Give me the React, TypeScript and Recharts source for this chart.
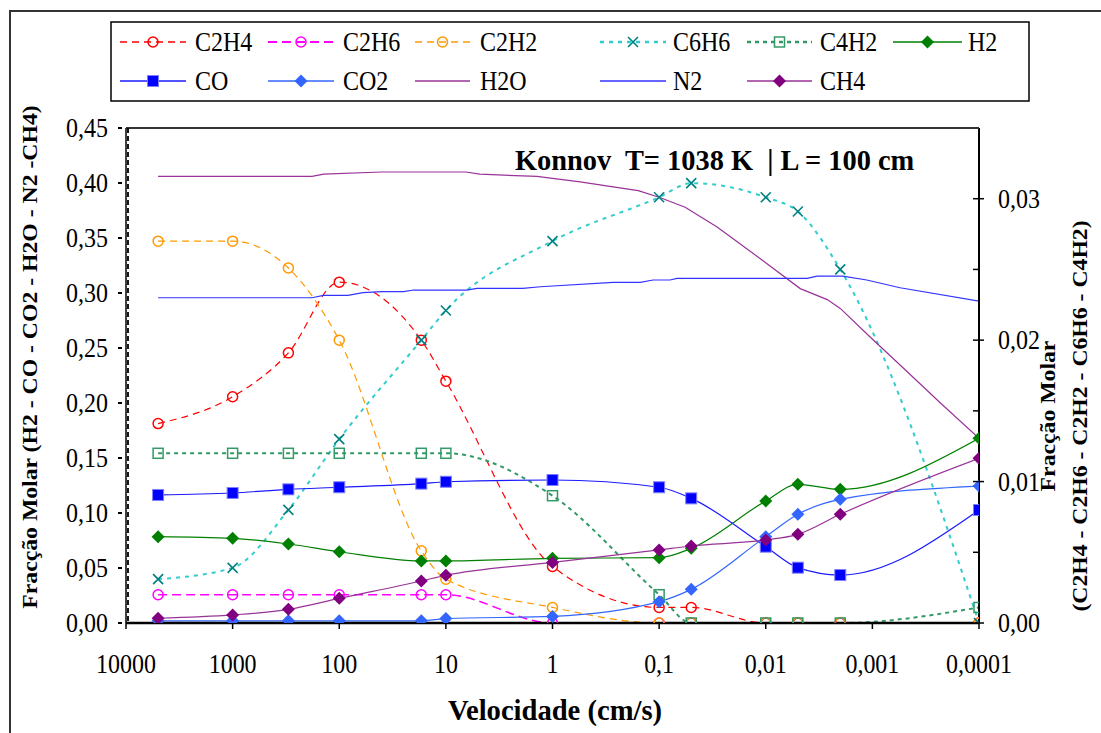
import React from "react";
import { LineChart, Line, XAxis, YAxis } from "recharts";

// velocidades (cm/s) onde há marcadores
const xMarks = [5000, 1000, 300, 100, 17, 10, 1, 0.1, 0.05, 0.01, 0.005, 0.002, 0.0001];

// eixo secundário (C2H4 - C2H6 - C2H2 - C6H6 - C4H2)
const c2h4 = [0.0141, 0.016, 0.0191, 0.0241, 0.02, 0.0171, 0.004, 0.0011, 0.0011, 0, 0, 0, 0];
const c2h6 = [0.002, 0.002, 0.002, 0.002, 0.002, 0.002, 0, 0, 0, 0, 0, 0, 0];
const c2h2 = [0.027, 0.027, 0.0251, 0.02, 0.0051, 0.0031, 0.0011, 0, 0, 0, 0, 0, 0];
const c6h6 = [0.0031, 0.0039, 0.008, 0.013, 0.02, 0.0221, 0.027, 0.0301, 0.0311, 0.0301, 0.0291, 0.025, 0];
const c4h2 = [0.012, 0.012, 0.012, 0.012, 0.012, 0.012, 0.009, 0.002, 0, 0, 0, 0, 0.0011];

// eixo principal (H2 - CO - CO2 - H2O - N2 - CH4)
const h2 = [0.0785, 0.077, 0.0718, 0.0648, 0.0564, 0.0564, 0.0588, 0.0594, 0.0679, 0.1109, 0.1261, 0.1215, 0.1679];
const co = [0.1164, 0.1182, 0.1215, 0.1234, 0.1267, 0.1284, 0.13, 0.1234, 0.1133, 0.0694, 0.0503, 0.0436, 0.1027];
const co2 = [0.002, 0.002, 0.002, 0.002, 0.002, 0.004, 0.006, 0.0194, 0.0306, 0.0785, 0.0988, 0.1124, 0.1245];
const ch4 = [0.0043, 0.0073, 0.0124, 0.0224, 0.0382, 0.0433, 0.0551, 0.0664, 0.07, 0.0755, 0.0806, 0.0988, 0.1497];

const h2oX = [5000, 180, 140, 40, 6.5, 4.8, 1.4, 0.55, 0.29, 0.157, 0.1, 0.057, 0.0286, 0.014, 0.00475, 0.00265, 0.002, 0.00105, 0.00049, 0.00023, 0.0001];
const h2oY = [0.406, 0.406, 0.408, 0.41, 0.41, 0.408, 0.406, 0.401, 0.397, 0.393, 0.387, 0.378, 0.36, 0.338, 0.304, 0.294, 0.286, 0.26, 0.23, 0.2, 0.168];

const n2X = [5000, 180, 141, 83, 60, 40, 25, 20, 6.4, 5.1, 1.9, 1.3, 0.27, 0.15, 0.114, 0.079, 0.068, 0.0041, 0.0033, 0.0019, 0.00113, 0.00055, 0.0001];
const n2Y = [0.2957, 0.2957, 0.2979, 0.2979, 0.3003, 0.3012, 0.3012, 0.3027, 0.3027, 0.3042, 0.3042, 0.3057, 0.3097, 0.3097, 0.3118, 0.3118, 0.3133, 0.3133, 0.3154, 0.3154, 0.3118, 0.3048, 0.2926];

const xTicks = [10000, 1000, 100, 10, 1, 0.1, 0.01, 0.001, 0.0001];
const leftTicks = [0, 0.05, 0.1, 0.15, 0.2, 0.25, 0.3, 0.35, 0.4, 0.45];
const rightTicks = [0, 0.005, 0.01, 0.015, 0.02, 0.025, 0.03, 0.035];

const FONT = "'Liberation Serif', 'Times New Roman', serif";
const SY = 1.13;

type Kind = "circle" | "x" | "hsquare" | "square" | "diamond" | "none";

type Series = {
  name: string;
  xs: number[];
  ys: number[];
  axis: "L" | "R";
  stroke: string;
  width: number;
  dash?: string;
  marker: Kind;
  markerColor: string;
};

const series: Series[] = [
  { name: "C2H4", xs: xMarks, ys: c2h4, axis: "R", stroke: "#ff0000", width: 1.2, dash: "7 5", marker: "circle", markerColor: "#ff0000" },
  { name: "C2H6", xs: xMarks, ys: c2h6, axis: "R", stroke: "#ff00ff", width: 1.5, dash: "9 5", marker: "circle", markerColor: "#ff00ff" },
  { name: "C2H2", xs: xMarks, ys: c2h2, axis: "R", stroke: "#ff9900", width: 1.2, dash: "7 5", marker: "circle", markerColor: "#ff9900" },
  { name: "C6H6", xs: xMarks, ys: c6h6, axis: "R", stroke: "#33cccc", width: 2, dash: "4 5", marker: "x", markerColor: "#008080" },
  { name: "C4H2", xs: xMarks, ys: c4h2, axis: "R", stroke: "#339966", width: 2, dash: "4 4", marker: "hsquare", markerColor: "#339966" },
  { name: "H2", xs: xMarks, ys: h2, axis: "L", stroke: "#008000", width: 1.2, marker: "diamond", markerColor: "#008000" },
  { name: "CO", xs: xMarks, ys: co, axis: "L", stroke: "#1a1aff", width: 1.2, marker: "square", markerColor: "#0000ff" },
  { name: "CO2", xs: xMarks, ys: co2, axis: "L", stroke: "#3366ff", width: 1.2, marker: "diamond", markerColor: "#3366ff" },
  { name: "H2O", xs: h2oX, ys: h2oY, axis: "L", stroke: "#993399", width: 1.2, marker: "none", markerColor: "#993399" },
  { name: "N2", xs: n2X, ys: n2Y, axis: "L", stroke: "#3333ff", width: 1.2, marker: "none", markerColor: "#3333ff" },
  { name: "CH4", xs: xMarks, ys: ch4, axis: "L", stroke: "#993399", width: 1.2, marker: "diamond", markerColor: "#800080" },
];

// posição das entradas da legenda: [início da linha, fim da linha, início do texto]
const legendCols = [
  [120, 186, 195],
  [268, 334, 343],
  [415, 470, 480],
  [600, 666, 673],
  [747, 812, 820],
  [893, 962, 968],
];
const legendRows = [
  ["C2H4", "C2H6", "C2H2", "C6H6", "C4H2", "H2"],
  ["CO", "CO2", "H2O", "N2", "CH4"],
];

function Marker({ kind, cx, cy, color }: { kind: Kind; cx: number; cy: number; color: string }) {
  if (kind === "circle")
    return <circle cx={cx} cy={cy} r={5} fill="none" stroke={color} strokeWidth={1.5} />;
  if (kind === "x")
    return (
      <g stroke={color} strokeWidth={1.6}>
        <line x1={cx - 5} y1={cy - 5} x2={cx + 5} y2={cy + 5} />
        <line x1={cx - 5} y1={cy + 5} x2={cx + 5} y2={cy - 5} />
      </g>
    );
  if (kind === "hsquare")
    return <rect x={cx - 5} y={cy - 5} width={10} height={10} fill="none" stroke={color} strokeWidth={1.5} />;
  if (kind === "square")
    return <rect x={cx - 5.5} y={cy - 5.5} width={11} height={11} fill={color} stroke="#8080ff" strokeWidth={1} />;
  if (kind === "diamond")
    return <polygon points={`${cx},${cy - 6.5} ${cx + 6.5},${cy} ${cx},${cy + 6.5} ${cx - 6.5},${cy}`} fill={color} />;
  return null;
}

const fmt = (v: number) => String(v).replace(".", ",");

function XTick(props: any) {
  const { x, y, payload } = props;
  return (
    <g>
      <line x1={x} y1={y} x2={x} y2={y + 6} stroke="#000" strokeWidth={1.5} />
      <text transform={`translate(${x},${y + 50}) scale(1,${SY})`} textAnchor="middle" fontFamily={FONT} fontSize={24} fill="#000">
        {fmt(payload.value)}
      </text>
    </g>
  );
}

function LeftTick(props: any) {
  const { x, y, payload } = props;
  return (
    <g>
      <line x1={x - 8} y1={y} x2={x - 4} y2={y} stroke="#000" strokeWidth={2} />
      <text transform={`translate(${x - 18},${y + 9}) scale(1,${SY})`} textAnchor="end" fontFamily={FONT} fontSize={24} fill="#000">
        {payload.value.toFixed(2).replace(".", ",")}
      </text>
    </g>
  );
}

function RightTick(props: any) {
  const { x, y, payload } = props;
  const major = Math.round(payload.value * 1000) % 10 === 0;
  return (
    <g>
      <line x1={x - 6} y1={y} x2={major ? x + 5 : x} y2={y} stroke="#000" strokeWidth={1.5} />
      {major && payload.value < 0.035 && (
        <text transform={`translate(${x + 19},${y + 9}) scale(1,${SY})`} textAnchor="start" fontFamily={FONT} fontSize={24} fill="#000">
          {payload.value.toFixed(2).replace(".", ",")}
        </text>
      )}
    </g>
  );
}

function LegendSample({ s, x1, x2, y }: { s: Series; x1: number; x2: number; y: number }) {
  return (
    <g>
      <line x1={x1} y1={y} x2={x2} y2={y} stroke={s.stroke} strokeWidth={s.width + 0.3} strokeDasharray={s.dash} />
      <Marker kind={s.marker} cx={(x1 + x2) / 2} cy={y} color={s.markerColor} />
    </g>
  );
}

export default function App() {
  const W = 1101;
  const H = 733;
  const byName = (n: string) => series.find((s) => s.name === n)!;

  return (
    <div style={{ position: "absolute", left: 0, top: 0, width: W, height: H, background: "#fff" }}>
      <LineChart width={W} height={H} margin={{ top: 128, right: 0, bottom: 0, left: 0 }}>
        <XAxis
          dataKey="x"
          type="number"
          scale="log"
          domain={[0.0001, 10000]}
          reversed
          allowDataOverflow
          ticks={xTicks}
          interval={0}
          height={110}
          tickSize={0}
          tickMargin={0}
          tickLine={false}
          axisLine={{ stroke: "#000", strokeWidth: 2.5 }}
          tick={(p: any) => <XTick {...p} />}
        />
        <YAxis
          yAxisId="L"
          orientation="left"
          domain={[0, 0.45]}
          ticks={leftTicks}
          interval={0}
          width={126}
          tickSize={0}
          tickMargin={0}
          tickLine={false}
          allowDataOverflow
          axisLine={{ stroke: "#000", strokeWidth: 1.5 }}
          tick={(p: any) => <LeftTick {...p} />}
        />
        <YAxis
          yAxisId="R"
          orientation="right"
          domain={[0, 0.035]}
          ticks={rightTicks}
          interval={0}
          width={122}
          tickSize={0}
          tickMargin={0}
          tickLine={false}
          allowDataOverflow
          axisLine={{ stroke: "#000", strokeWidth: 2 }}
          tick={(p: any) => <RightTick {...p} />}
        />
        {series.map((s) => (
          <Line
            key={s.name}
            name={s.name}
            yAxisId={s.axis}
            data={s.xs.map((x, i) => ({ x, y: s.ys[i] }))}
            dataKey="y"
            type={s.marker === "none" ? "linear" : "monotone"}
            stroke={s.stroke}
            strokeWidth={s.width}
            strokeDasharray={s.dash}
            isAnimationActive={false}
            activeDot={false}
            dot={
              s.marker === "none"
                ? false
                : (p: any) =>
                    p.cx == null || p.cy == null ? (
                      <g key={p.index} />
                    ) : (
                      <Marker key={p.index} kind={s.marker} cx={p.cx} cy={p.cy} color={s.markerColor} />
                    )
            }
          />
        ))}
      </LineChart>

      <svg width={W} height={H} style={{ position: "absolute", left: 0, top: 0, pointerEvents: "none" }}>
        {/* moldura exterior */}
        <rect x={10} y={11} width={1200} height={1000} fill="none" stroke="#333" strokeWidth={2} />
        {/* topo da área de desenho e eixo esquerdo tracejado */}
        <line x1={126} y1={128} x2={979} y2={128} stroke="#333" strokeWidth={2} />
        <line x1={128} y1={128} x2={128} y2={623} stroke="#000" strokeWidth={1.8} strokeDasharray="5 3" />

        {/* legenda */}
        <rect x={111} y={22} width={918} height={79} fill="#fff" stroke="#000" strokeWidth={1.5} />
        {legendRows.map((row, r) =>
          row.map((name, c) => {
            const [x1, x2, tx] = legendCols[c];
            const y = r === 0 ? 42 : 81;
            return (
              <g key={name}>
                <LegendSample s={byName(name)} x1={x1} x2={x2} y={y} />
                <text transform={`translate(${tx},${y + 9}) scale(1,${SY})`} fontFamily={FONT} fontSize={24} fill="#000">
                  {name}
                </text>
              </g>
            );
          })
        )}

        {/* título */}
        <text
          transform={`translate(515,170) scale(1,1.06)`}
          fontFamily={FONT}
          fontSize={28.4}
          fontWeight="bold"
          fill="#000"
          style={{ whiteSpace: "pre" }}
        >
          {"Konnov  T= 1038 K  | L = 100 cm"}
        </text>

        {/* títulos dos eixos */}
        <text
          transform={`translate(555,720) scale(1,1.05)`}
          textAnchor="middle"
          fontFamily={FONT}
          fontSize={28.6}
          fontWeight="bold"
          fill="#000"
        >
          Velocidade (cm/s)
        </text>
        <text
          transform={`translate(37,357) rotate(-90) scale(${SY},1)`}
          textAnchor="middle"
          fontFamily={FONT}
          fontSize={21}
          fontWeight="bold"
          fill="#000"
        >
          Fracção Molar (H2 - CO - CO2 - H2O - N2 -CH4)
        </text>
        <text
          transform={`translate(1055,416) rotate(-90) scale(${SY},1)`}
          textAnchor="middle"
          fontFamily={FONT}
          fontSize={21}
          fontWeight="bold"
          fill="#000"
        >
          Fracção Molar
        </text>
        <text
          transform={`translate(1087,416) rotate(-90) scale(${SY},1)`}
          textAnchor="middle"
          fontFamily={FONT}
          fontSize={21}
          fontWeight="bold"
          fill="#000"
        >
          (C2H4 - C2H6 - C2H2 - C6H6 - C4H2)
        </text>
      </svg>
    </div>
  );
}
